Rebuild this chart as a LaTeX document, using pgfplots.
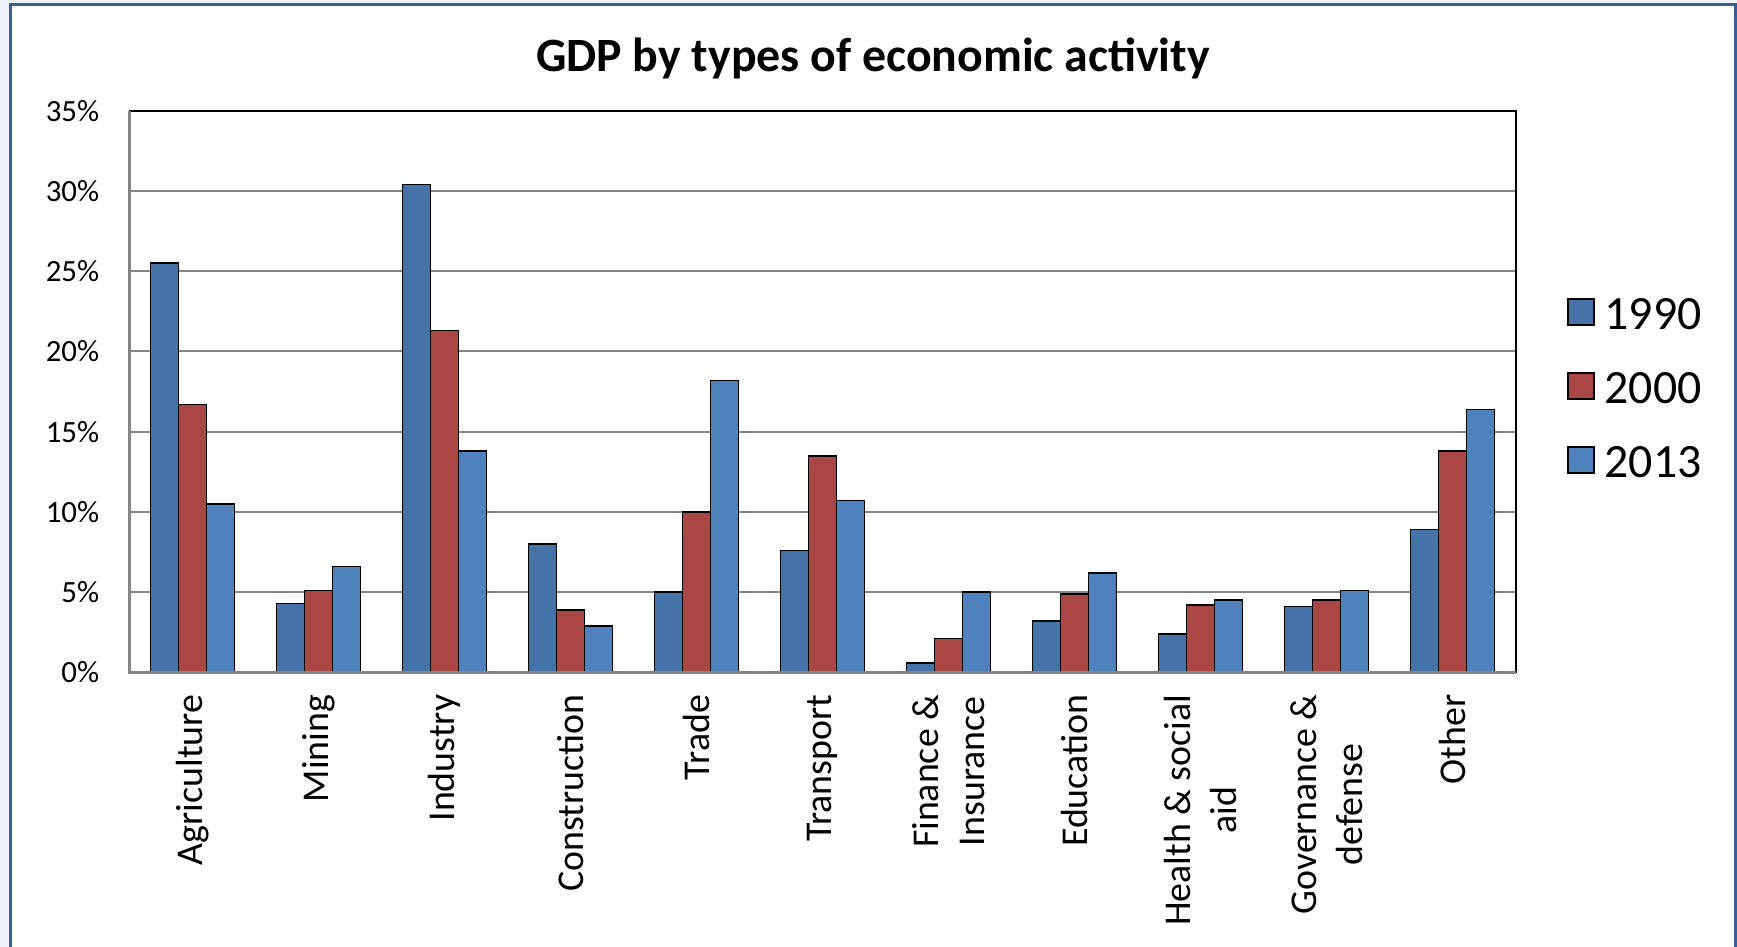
\documentclass[border=0pt]{standalone}
\usepackage{pgfplots}
\pgfplotsset{compat=1.18}
\usepackage{fontspec}
\setmainfont{Carlito}
\definecolor{c1990}{HTML}{4572A7}
\definecolor{c2000}{HTML}{AA4643}
\definecolor{c2013}{HTML}{4F81BD}
\definecolor{framecol}{HTML}{376092}
\definecolor{outbg}{HTML}{EEF3FA}
\definecolor{gridcol}{HTML}{868686}
\pgfplotsset{/pgfplots/ybar legend/.style={/pgfplots/legend image code/.code={\draw[##1,draw=black,line width=0.75bp] (0bp,-5bp) rectangle (13bp,8bp);}}}
\begin{document}
\begin{tikzpicture}
\useasboundingbox (-64.8bp,-137.3bp) rectangle (803.7bp,336.2bp);
\fill[outbg] (-64.8bp,-137.3bp) rectangle (803.7bp,336.2bp);
\draw[framecol, line width=1.5bp, fill=white] (-59.45bp,-150bp) rectangle (802.7bp,333.7bp);
\begin{axis}[
  at={(0,0)}, anchor=south west,
  scale only axis, width=692.95bp, height=280.8bp,
  ybar=0pt, bar width=14bp,
  xmin=-0.5, xmax=10.5, ymin=0, ymax=35,
  xtick={0,...,10},
  xticklabels={Agriculture, Mining, Industry, Construction, Trade, Transport, {Finance \&\\Insurance}, Education, {Health \& social\\aid}, {Governance \&\\defense}, Other},
  ytick={0,5,...,35},
  yticklabels={0\%,5\%,10\%,15\%,20\%,25\%,30\%,35\%},
  xticklabel style={font=\fontsize{19}{23}\selectfont, rotate=90, anchor=east, align=center, inner sep=0pt},
  xticklabel shift=6.7bp,
  yticklabel style={font=\fontsize{15.5}{18}\selectfont, inner sep=0pt, anchor=east},
  yticklabel shift=15bp,
  tick style={draw=none},
  ymajorgrids, grid style={gridcol, line width=1bp},
  axis line style={black, line width=1bp},
  extra description/.code={\draw[gridcol, line width=1.2bp] (0,1) -- (0,0) -- (1,0);},
  legend style={at={(1.0372,0.7023)}, anchor=north west, draw=none, fill=none, inner sep=0pt, outer sep=0pt,
    font=\fontsize{24}{28}\selectfont, row sep=0pt,
    nodes={inner sep=0pt, text height=25.75bp, text depth=11.25bp},
    /tikz/every odd column/.append style={column sep=5bp}},
  legend cell align=left,
]
\addplot[fill=c1990, draw=black, line width=0.75bp] coordinates {(0,25.5) (1,4.3) (2,30.4) (3,8.0) (4,5.0) (5,7.6) (6,0.6) (7,3.2) (8,2.4) (9,4.1) (10,8.9)};
\addplot[fill=c2000, draw=black, line width=0.75bp] coordinates {(0,16.7) (1,5.1) (2,21.3) (3,3.9) (4,10.0) (5,13.5) (6,2.1) (7,4.9) (8,4.2) (9,4.5) (10,13.8)};
\addplot[fill=c2013, draw=black, line width=0.75bp] coordinates {(0,10.5) (1,6.6) (2,13.8) (3,2.9) (4,18.2) (5,10.7) (6,5.0) (7,6.2) (8,4.5) (9,5.1) (10,16.4)};
\legend{1990,2000,2013}
\end{axis}
\node[anchor=base, font=\fontsize{24}{28}\selectfont\bfseries] at (371.7bp,300.35bp) {GDP by types of economic activity};
\end{tikzpicture}
\end{document}
